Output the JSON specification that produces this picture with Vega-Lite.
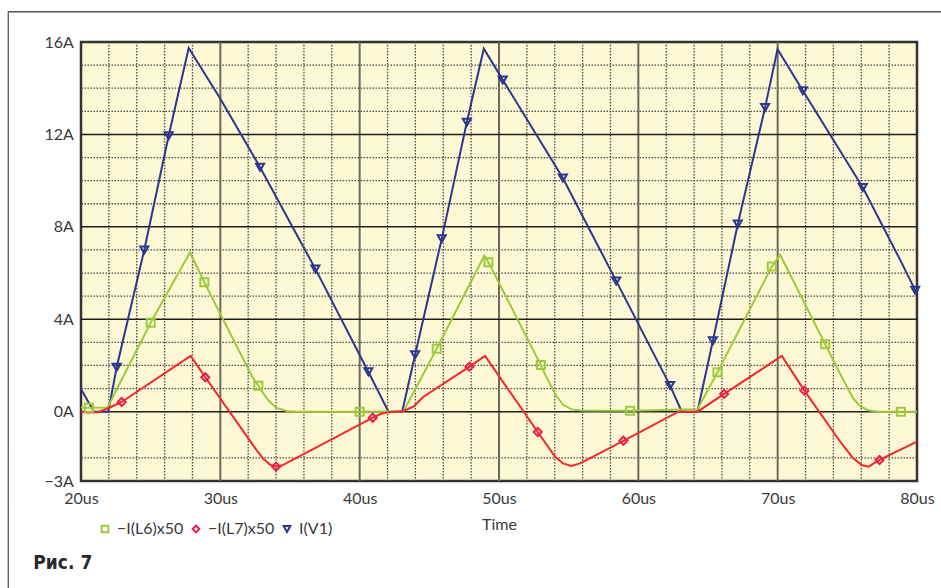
{
  "$schema": "https://vega.github.io/schema/vega-lite/v6.json",
  "width": 836,
  "height": 439,
  "autosize": {"type": "none"},
  "padding": {"left": 81, "top": 42, "right": 24, "bottom": 107},
  "background": "white",
  "datasets": {
    "series": [
      {"s": "I(V1)", "t": 20, "v": 0.98}, {"s": "I(V1)", "t": 20.93, "v": 0}, {"s": "I(V1)", "t": 21.96, "v": 0},
      {"s": "I(V1)", "t": 22.56, "v": 1.92}, {"s": "I(V1)", "t": 24.54, "v": 7.0}, {"s": "I(V1)", "t": 26.29, "v": 11.94},
      {"s": "I(V1)", "t": 27.73, "v": 15.74}, {"s": "I(V1)", "t": 29.98, "v": 13.57}, {"s": "I(V1)", "t": 32.85, "v": 10.58},
      {"s": "I(V1)", "t": 36.82, "v": 6.18}, {"s": "I(V1)", "t": 40.62, "v": 1.73}, {"s": "I(V1)", "t": 42.07, "v": 0},
      {"s": "I(V1)", "t": 43.05, "v": 0}, {"s": "I(V1)", "t": 43.98, "v": 2.46}, {"s": "I(V1)", "t": 45.89, "v": 7.48},
      {"s": "I(V1)", "t": 47.69, "v": 12.53}, {"s": "I(V1)", "t": 48.91, "v": 15.71}, {"s": "I(V1)", "t": 50.27, "v": 14.36},
      {"s": "I(V1)", "t": 54.58, "v": 10.11}, {"s": "I(V1)", "t": 58.41, "v": 5.66}, {"s": "I(V1)", "t": 62.28, "v": 1.13},
      {"s": "I(V1)", "t": 63.12, "v": 0}, {"s": "I(V1)", "t": 64.24, "v": 0}, {"s": "I(V1)", "t": 65.35, "v": 3.07},
      {"s": "I(V1)", "t": 67.14, "v": 8.12}, {"s": "I(V1)", "t": 69.1, "v": 13.17}, {"s": "I(V1)", "t": 69.99, "v": 15.69},
      {"s": "I(V1)", "t": 71.81, "v": 13.89}, {"s": "I(V1)", "t": 76.11, "v": 9.7}, {"s": "I(V1)", "t": 78.79, "v": 6.57},
      {"s": "I(V1)", "t": 80, "v": 5.1},
      {"s": "−I(L6)x50", "t": 20, "v": 0.18}, {"s": "−I(L6)x50", "t": 20.57, "v": 0.17}, {"s": "−I(L6)x50", "t": 21.9, "v": 0.18},
      {"s": "−I(L6)x50", "t": 25.0, "v": 3.85}, {"s": "−I(L6)x50", "t": 27.82, "v": 6.89}, {"s": "−I(L6)x50", "t": 28.85, "v": 5.6},
      {"s": "−I(L6)x50", "t": 29.98, "v": 4.25}, {"s": "−I(L6)x50", "t": 32.3, "v": 1.5}, {"s": "−I(L6)x50", "t": 32.73, "v": 1.12},
      {"s": "−I(L6)x50", "t": 33.1, "v": 0.78}, {"s": "−I(L6)x50", "t": 33.45, "v": 0.48}, {"s": "−I(L6)x50", "t": 34.05, "v": 0.16},
      {"s": "−I(L6)x50", "t": 34.77, "v": 0.03}, {"s": "−I(L6)x50", "t": 35.5, "v": 0}, {"s": "−I(L6)x50", "t": 40.0, "v": 0},
      {"s": "−I(L6)x50", "t": 43.15, "v": 0.02}, {"s": "−I(L6)x50", "t": 45.53, "v": 2.72}, {"s": "−I(L6)x50", "t": 48.95, "v": 6.76},
      {"s": "−I(L6)x50", "t": 49.24, "v": 6.47}, {"s": "−I(L6)x50", "t": 53.0, "v": 2.02}, {"s": "−I(L6)x50", "t": 53.3, "v": 1.62},
      {"s": "−I(L6)x50", "t": 53.7, "v": 1.15}, {"s": "−I(L6)x50", "t": 54.1, "v": 0.7}, {"s": "−I(L6)x50", "t": 54.6, "v": 0.3},
      {"s": "−I(L6)x50", "t": 55.2, "v": 0.1}, {"s": "−I(L6)x50", "t": 55.9, "v": 0.05}, {"s": "−I(L6)x50", "t": 59.41, "v": 0.04},
      {"s": "−I(L6)x50", "t": 64.24, "v": 0.1}, {"s": "−I(L6)x50", "t": 65.68, "v": 1.71}, {"s": "−I(L6)x50", "t": 69.58, "v": 6.28},
      {"s": "−I(L6)x50", "t": 70.18, "v": 6.79}, {"s": "−I(L6)x50", "t": 73.41, "v": 2.92}, {"s": "−I(L6)x50", "t": 74.6, "v": 1.5},
      {"s": "−I(L6)x50", "t": 75.0, "v": 1.05}, {"s": "−I(L6)x50", "t": 75.4, "v": 0.6}, {"s": "−I(L6)x50", "t": 75.9, "v": 0.25},
      {"s": "−I(L6)x50", "t": 76.5, "v": 0.06}, {"s": "−I(L6)x50", "t": 77.2, "v": 0}, {"s": "−I(L6)x50", "t": 78.84, "v": 0},
      {"s": "−I(L6)x50", "t": 80, "v": 0},
      {"s": "−I(L7)x50", "t": 20, "v": 0}, {"s": "−I(L7)x50", "t": 20.5, "v": -0.04}, {"s": "−I(L7)x50", "t": 21.2, "v": -0.02},
      {"s": "−I(L7)x50", "t": 21.96, "v": 0.15}, {"s": "−I(L7)x50", "t": 22.92, "v": 0.42}, {"s": "−I(L7)x50", "t": 27.87, "v": 2.41},
      {"s": "−I(L7)x50", "t": 28.92, "v": 1.49}, {"s": "−I(L7)x50", "t": 32.6, "v": -1.66}, {"s": "−I(L7)x50", "t": 33.1, "v": -2.05},
      {"s": "−I(L7)x50", "t": 33.55, "v": -2.28}, {"s": "−I(L7)x50", "t": 34.0, "v": -2.38}, {"s": "−I(L7)x50", "t": 34.45, "v": -2.32},
      {"s": "−I(L7)x50", "t": 40.94, "v": -0.26}, {"s": "−I(L7)x50", "t": 41.5, "v": -0.1}, {"s": "−I(L7)x50", "t": 42.06, "v": -0.02},
      {"s": "−I(L7)x50", "t": 43.14, "v": 0.03}, {"s": "−I(L7)x50", "t": 43.86, "v": 0.22}, {"s": "−I(L7)x50", "t": 44.58, "v": 0.65},
      {"s": "−I(L7)x50", "t": 47.88, "v": 1.95}, {"s": "−I(L7)x50", "t": 49.0, "v": 2.41}, {"s": "−I(L7)x50", "t": 52.78, "v": -0.88},
      {"s": "−I(L7)x50", "t": 54.03, "v": -1.95}, {"s": "−I(L7)x50", "t": 54.6, "v": -2.24}, {"s": "−I(L7)x50", "t": 55.19, "v": -2.35},
      {"s": "−I(L7)x50", "t": 55.82, "v": -2.24}, {"s": "−I(L7)x50", "t": 58.93, "v": -1.26}, {"s": "−I(L7)x50", "t": 62.88, "v": 0},
      {"s": "−I(L7)x50", "t": 64.24, "v": 0}, {"s": "−I(L7)x50", "t": 66.16, "v": 0.77}, {"s": "−I(L7)x50", "t": 70.3, "v": 2.41},
      {"s": "−I(L7)x50", "t": 71.92, "v": 0.91}, {"s": "−I(L7)x50", "t": 74.49, "v": -1.3}, {"s": "−I(L7)x50", "t": 75.42, "v": -2.02},
      {"s": "−I(L7)x50", "t": 76.04, "v": -2.31}, {"s": "−I(L7)x50", "t": 76.52, "v": -2.38}, {"s": "−I(L7)x50", "t": 77.31, "v": -2.09},
      {"s": "−I(L7)x50", "t": 80, "v": -1.3}
    ],
    "markers": [
      {"s": "I(V1)", "t": 22.56, "v": 1.92}, {"s": "I(V1)", "t": 24.54, "v": 7.0}, {"s": "I(V1)", "t": 26.29, "v": 11.94},
      {"s": "I(V1)", "t": 32.85, "v": 10.58}, {"s": "I(V1)", "t": 36.82, "v": 6.18}, {"s": "I(V1)", "t": 40.62, "v": 1.73},
      {"s": "I(V1)", "t": 43.98, "v": 2.46}, {"s": "I(V1)", "t": 45.89, "v": 7.48}, {"s": "I(V1)", "t": 47.69, "v": 12.53},
      {"s": "I(V1)", "t": 50.27, "v": 14.36}, {"s": "I(V1)", "t": 54.58, "v": 10.11}, {"s": "I(V1)", "t": 58.41, "v": 5.66},
      {"s": "I(V1)", "t": 62.28, "v": 1.13}, {"s": "I(V1)", "t": 65.35, "v": 3.07}, {"s": "I(V1)", "t": 67.14, "v": 8.12},
      {"s": "I(V1)", "t": 69.1, "v": 13.17}, {"s": "I(V1)", "t": 71.81, "v": 13.89}, {"s": "I(V1)", "t": 76.11, "v": 9.7},
      {"s": "I(V1)", "t": 79.87, "v": 5.26},
      {"s": "−I(L6)x50", "t": 20.57, "v": 0.17}, {"s": "−I(L6)x50", "t": 25.0, "v": 3.85}, {"s": "−I(L6)x50", "t": 28.85, "v": 5.6},
      {"s": "−I(L6)x50", "t": 32.73, "v": 1.12}, {"s": "−I(L6)x50", "t": 40.0, "v": 0}, {"s": "−I(L6)x50", "t": 45.53, "v": 2.72},
      {"s": "−I(L6)x50", "t": 49.24, "v": 6.47}, {"s": "−I(L6)x50", "t": 53.0, "v": 2.02}, {"s": "−I(L6)x50", "t": 59.41, "v": 0.04},
      {"s": "−I(L6)x50", "t": 65.68, "v": 1.71}, {"s": "−I(L6)x50", "t": 69.58, "v": 6.28}, {"s": "−I(L6)x50", "t": 73.41, "v": 2.92},
      {"s": "−I(L6)x50", "t": 78.84, "v": 0},
      {"s": "−I(L7)x50", "t": 22.92, "v": 0.42}, {"s": "−I(L7)x50", "t": 28.92, "v": 1.49}, {"s": "−I(L7)x50", "t": 34.0, "v": -2.38},
      {"s": "−I(L7)x50", "t": 40.94, "v": -0.26}, {"s": "−I(L7)x50", "t": 47.88, "v": 1.95}, {"s": "−I(L7)x50", "t": 52.78, "v": -0.88},
      {"s": "−I(L7)x50", "t": 58.93, "v": -1.26}, {"s": "−I(L7)x50", "t": 66.16, "v": 0.77}, {"s": "−I(L7)x50", "t": 71.92, "v": 0.91},
      {"s": "−I(L7)x50", "t": 77.31, "v": -2.09}
    ],
    "vminor": [
      {"t": 22}, {"t": 24}, {"t": 26}, {"t": 28}, {"t": 32}, {"t": 34}, {"t": 36}, {"t": 38},
      {"t": 42}, {"t": 44}, {"t": 46}, {"t": 48}, {"t": 52}, {"t": 54}, {"t": 56}, {"t": 58},
      {"t": 62}, {"t": 64}, {"t": 66}, {"t": 68}, {"t": 72}, {"t": 74}, {"t": 76}, {"t": 78}
    ],
    "hminor": [
      {"v": -2}, {"v": 1}, {"v": 2}, {"v": 3}, {"v": 5}, {"v": 6}, {"v": 7},
      {"v": 9}, {"v": 10}, {"v": 11}, {"v": 13}, {"v": 14}, {"v": 15}
    ],
    "vmajor": [{"t": 30}, {"t": 40}, {"t": 50}, {"t": 60}, {"t": 70}],
    "hmajor": [{"v": 0}, {"v": 4}, {"v": 8}, {"v": 12}]
  },
  "layer": [
    {
      "data": {"values": [{"k": 1}]},
      "mark": {"type": "rect", "filled": false, "color": "#555555", "strokeWidth": 1.3},
      "encoding": {
        "x": {"datum": 14.78, "type": "quantitative", "scale": {"domain": [20, 80], "nice": false, "zero": false}},
        "x2": {"datum": 95},
        "y": {"datum": 17.31, "type": "quantitative", "scale": {"domain": [-3, 16], "nice": false, "zero": false}},
        "y2": {"datum": -12}
      }
    },
    {
      "data": {"name": "vminor"},
      "mark": {"type": "rule", "color": "#4a4a4a", "strokeWidth": 1.3, "strokeDash": [1.5, 1.5]},
      "encoding": {"x": {"field": "t", "type": "quantitative"}}
    },
    {
      "data": {"name": "hminor"},
      "mark": {"type": "rule", "color": "#4a4a4a", "strokeWidth": 1.3, "strokeDash": [1.5, 1.5]},
      "encoding": {"y": {"field": "v", "type": "quantitative"}}
    },
    {
      "data": {"name": "vmajor"},
      "mark": {"type": "rule", "color": "#6b6a5c", "strokeWidth": 2},
      "encoding": {"x": {"field": "t", "type": "quantitative"}}
    },
    {
      "data": {"name": "hmajor"},
      "mark": {"type": "rule", "color": "#1e1e1e", "strokeWidth": 1.5},
      "encoding": {"y": {"field": "v", "type": "quantitative"}}
    },
    {
      "data": {"name": "series"},
      "transform": [{"filter": "datum.s === 'I(V1)'"}],
      "mark": {"type": "line", "strokeWidth": 2, "color": "#2c3691", "interpolate": "linear"},
      "encoding": {
        "x": {
          "field": "t", "type": "quantitative",
          "scale": {"domain": [20, 80], "nice": false, "zero": false},
          "axis": {
            "values": [20, 30, 40, 50, 60, 70, 80],
            "labelExpr": "datum.value + 'us'",
            "title": "Time",
            "labelPadding": 9.5,
            "titlePadding": 10,
            "encode": {"labels": {"update": {
              "dx": {"signal": "datum.value === 20 ? 12 : datum.value === 30 ? 5 : datum.value === 40 ? 4.5 : datum.value === 50 ? 2.6 : datum.value === 60 ? -0.4 : datum.value === 70 ? -3 : -17"},
              "dy": {"signal": "datum.value === 20 ? -4 : datum.value === 30 ? -4 : datum.value === 40 ? 0 : datum.value === 50 ? 6 : datum.value === 60 ? 2.5 : datum.value === 70 ? 4 : -0.5"}
            }}}
          }
        },
        "y": {
          "field": "v", "type": "quantitative",
          "scale": {"domain": [-3, 16], "nice": false, "zero": false},
          "axis": {
            "values": [-3, 0, 4, 8, 12, 16],
            "labelExpr": "datum.value < 0 ? '−' + abs(datum.value) + 'A' : datum.value + 'A'",
            "title": null,
            "labelPadding": 7.7,
            "encode": {"labels": {"update": {"dy": {"signal": "datum.value === 16 ? 3 : 0"}}}}
          }
        },
        "order": {"field": "t", "type": "quantitative"}
      }
    },
    {
      "data": {"name": "series"},
      "transform": [{"filter": "datum.s === '−I(L6)x50'"}],
      "mark": {"type": "line", "strokeWidth": 2, "color": "#9dca3c", "interpolate": "linear"},
      "encoding": {
        "x": {"field": "t", "type": "quantitative"},
        "y": {"field": "v", "type": "quantitative"},
        "order": {"field": "t", "type": "quantitative"}
      }
    },
    {
      "data": {"name": "series"},
      "transform": [{"filter": "datum.s === '−I(L7)x50'"}],
      "mark": {"type": "line", "strokeWidth": 2, "color": "#f3262c", "interpolate": "linear"},
      "encoding": {
        "x": {"field": "t", "type": "quantitative"},
        "y": {"field": "v", "type": "quantitative"},
        "order": {"field": "t", "type": "quantitative"}
      }
    },
    {
      "data": {"name": "markers"},
      "mark": {"type": "point", "filled": false, "strokeWidth": 2, "size": 65, "opacity": 1},
      "encoding": {
        "x": {"field": "t", "type": "quantitative"},
        "y": {"field": "v", "type": "quantitative"},
        "color": {
          "field": "s", "type": "nominal",
          "scale": {"domain": ["−I(L6)x50", "−I(L7)x50", "I(V1)"], "range": ["#9dca3c", "#e81e4e", "#2c3691"]},
          "legend": {
            "orient": "none", "legendX": 16, "legendY": 479, "direction": "horizontal", "title": null,
            "symbolSize": 45, "symbolStrokeWidth": 2, "labelOffset": 4, "columnPadding": 4, "padding": 0
          }
        },
        "shape": {
          "field": "s", "type": "nominal",
          "scale": {"domain": ["−I(L6)x50", "−I(L7)x50", "I(V1)"], "range": ["square", "diamond", "triangle-down"]}
        }
      }
    },
    {
      "data": {"values": [{"label": "Рис. 7"}]},
      "mark": {"type": "text", "align": "left", "baseline": "alphabetic", "font": "DejaVu Sans Condensed, Liberation Sans Narrow, DejaVu Sans", "fontWeight": "bold", "fontSize": 19, "color": "#2a2a2a"},
      "encoding": {
        "x": {"datum": 16.577, "type": "quantitative"},
        "y": {"datum": -6.81, "type": "quantitative"},
        "text": {"field": "label"}
      }
    }
  ],
  "config": {
    "view": {"fill": "#fef9d4", "stroke": "#333333", "strokeWidth": 2.5},
    "font": "Lato",
    "axis": {
      "grid": false, "ticks": false, "tickSize": 0, "domain": false,
      "labelFont": "Lato", "labelFontSize": 16, "labelColor": "#3a3a3a",
      "labelOverlap": false, "labelBound": false, "labelFlush": false,
      "titleFont": "Lato", "titleFontSize": 16, "titleFontWeight": "normal", "titleColor": "#3a3a3a"
    },
    "legend": {
      "labelFont": "Lato", "labelFontSize": 16, "labelColor": "#3a3a3a", "labelLimit": 300
    }
  }
}
